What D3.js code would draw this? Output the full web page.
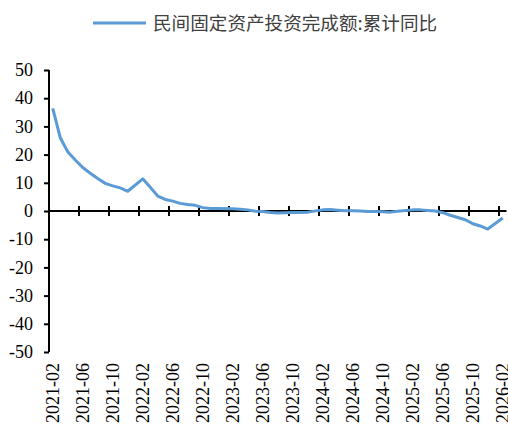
<!DOCTYPE html>
<html>
<head>
<meta charset="utf-8">
<script src="https://cdn.jsdelivr.net/npm/d3@7"></script>
<style>
  body { margin: 0; background: #fff; }
  svg { display: block; }
  .axis path, .axis line { stroke: #000; stroke-width: 2px; }
</style>
</head>
<body>
<script>
// months 2021-02 .. 2026-02, January values not published (null)
var months = [];
for (var yr = 2021; yr <= 2026; yr++) {
  for (var m = 1; m <= 12; m++) {
    if (yr == 2021 && m < 2) continue;
    if (yr == 2026 && m > 2) break;
    months.push(yr + "-" + (m < 10 ? "0" + m : m));
  }
}

var v2021 = [null, 36.4, 26.0, 21.0, 18.1, 15.4, 13.4, 11.5, 9.8, 8.9, 8.2, 7.0];
var v2022 = [null, 11.4, 8.4, 5.3, 4.1, 3.5, 2.7, 2.3, 2.0, 1.2, 0.9, 0.9];
var v2023 = [null, 0.8, 0.6, 0.4, -0.1, -0.2, -0.5, -0.7, -0.6, -0.5, -0.5, -0.4];
var v2024 = [null, 0.4, 0.5, 0.3, 0.1, 0.1, 0.0, -0.2, -0.2, -0.3, -0.4, -0.1];
var v2025 = [null, 0.4, 0.4, 0.2, 0.0, -0.6, -1.5, -2.3, -3.1, -4.5, -5.3, -6.4];
var v2026 = [null, -2.5];
var values = v2021.slice(1).concat(v2022, v2023, v2024, v2025, v2026);

var seriesName = "民间固定资产投资完成额:累计同比";
var yTicks = [-50, -40, -30, -20, -10, 0, 10, 20, 30, 40, 50];

var width = 508, height = 425;
var plotL = 49, plotR = 506.5, plotT = 70, plotB = 352;
var serif = "'Liberation Serif', 'Times New Roman', Times, serif";

var svg = d3.select("body").append("svg")
  .attr("width", width)
  .attr("height", height);

var x = d3.scaleBand()
  .domain(months)
  .range([plotL, plotR])
  .paddingInner(0).paddingOuter(0);

var y = d3.scaleLinear()
  .domain([-50, 50])
  .range([plotB, plotT]);

// y axis
var yAxis = d3.axisLeft(y)
  .tickValues(yTicks)
  .tickSize(5)
  .tickPadding(11)
  .tickFormat(function(d) { return String(d); });

svg.append("g")
  .attr("class", "axis")
  .attr("transform", "translate(" + plotL + ",0)")
  .call(yAxis)
  .call(function(g) {
    g.select(".domain").attr("d", "M0," + plotT + "V" + plotB);
    g.selectAll("text")
      .style("font-family", serif)
      .style("font-size", "18px")
      .style("fill", "#000");
  });

// x axis line at zero with crossing tick marks every 4 months (category boundaries)
var tickIdx = d3.range(4, months.length, 4);
var xg = svg.append("g")
  .attr("class", "axis")
  .attr("transform", "translate(0," + y(0) + ")");

xg.append("line")
  .attr("x1", plotL).attr("x2", plotR)
  .attr("y1", 0).attr("y2", 0);

xg.selectAll(".tk")
  .data(tickIdx)
  .enter().append("line")
  .attr("class", "tk")
  .attr("x1", function(i) { return x(months[i]); })
  .attr("x2", function(i) { return x(months[i]); })
  .attr("y1", -5).attr("y2", 5);

// rotated category labels at the bottom
var labelIdx = d3.range(0, months.length, 4);
svg.append("g")
  .selectAll("text")
  .data(labelIdx)
  .enter().append("text")
  .attr("transform", function(i) {
    return "translate(" + (x(months[i]) + x.bandwidth() / 2) + ",363)rotate(-90)";
  })
  .attr("text-anchor", "end")
  .attr("dy", "0.35em")
  .style("font-family", serif)
  .style("font-size", "18px")
  .style("fill", "#000")
  .text(function(i) { return months[i]; });

// line (skip missing January values, connect across)
var pts = months.map(function(d, i) { return {m: d, v: values[i]}; })
  .filter(function(d) { return d.v != null; });

var line = d3.line()
  .x(function(d) { return x(d.m) + x.bandwidth() / 2; })
  .y(function(d) { return y(d.v); });

svg.append("path")
  .datum(pts)
  .attr("d", line)
  .attr("fill", "none")
  .attr("stroke", "#5b9bd5")
  .attr("stroke-width", 3)
  .attr("stroke-linejoin", "round");

// legend
var legend = svg.append("g");
legend.append("line")
  .attr("x1", 93).attr("x2", 146)
  .attr("y1", 23).attr("y2", 23)
  .attr("stroke", "#5b9bd5")
  .attr("stroke-width", 3);
legend.append("text")
  .attr("x", 153)
  .attr("y", 30)
  .style("font-family", "'Noto Sans CJK SC', sans-serif")
  .style("font-size", "18.6px")
  .style("fill", "#404040")
  .text(seriesName);
</script>
</body>
</html>
